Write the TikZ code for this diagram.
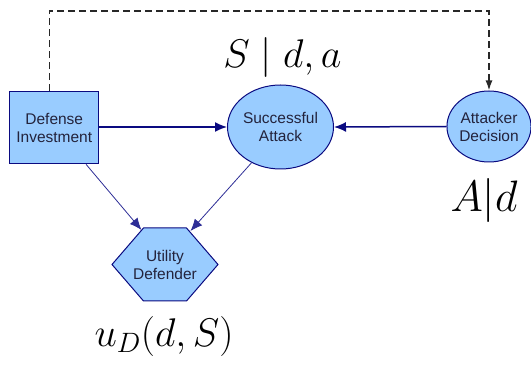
\RequirePackage{fix-cm}
\documentclass[tikz,border=0pt]{standalone}
\usepackage{fontspec}
\newfontfamily\nodefont{Liberation Sans}
\usetikzlibrary{arrows.meta,shapes.geometric}

\definecolor{nodeblue}{RGB}{153,204,255}
\definecolor{edgenavy}{RGB}{10,10,128}
\definecolor{thinnavy}{RGB}{45,45,150}
\definecolor{nodetext}{RGB}{35,35,60}
\definecolor{dashgray}{RGB}{40,40,40}

\begin{document}
\begin{tikzpicture}[x=1pt,y=-1pt,
  nodebase/.style={draw=edgenavy,line width=1pt,fill=nodeblue,inner sep=0pt,
    align=center,text=nodetext,font=\nodefont\fontsize{15.5}{18}\selectfont},
  decisionbox/.style={nodebase,rectangle,minimum width=89pt,minimum height=72pt,line width=1.2pt},
  chancenode/.style={nodebase,ellipse},
  utilfill/.style={draw=edgenavy,line width=1pt,fill=nodeblue},
  utiltext/.style={align=center,text=nodetext,inner sep=0pt,
    font=\nodefont\fontsize{15.5}{18}\selectfont},
  mainarrow/.style={draw=edgenavy,line width=1.5pt,-{Latex[length=12pt,width=10pt]}},
  sidearrow/.style={draw=thinnavy,line width=0.8pt,-{Latex[length=12pt,width=10pt]}},
  infoarrow/.style={draw=dashgray,line width=1.5pt,dash pattern=on 7pt off 4pt,
    -{Latex[length=10pt,width=7pt]}},
  mathlabel/.style={anchor=base,inner sep=0pt}]

\useasboundingbox (0,0) rectangle (531,366);

% decision and chance nodes
\node[decisionbox] (def) at (54.25,127.75) {Defense\\Investment};
\node[chancenode,minimum width=100pt,minimum height=84pt] (sa) at (280.5,127) {Successful\\Attack};
\node[chancenode,minimum width=84pt,minimum height=71pt] (att) at (489,126.5) {Attacker\\Decision};

% utility node (hexagon)
\coordinate (utl) at (143.5,228);
\coordinate (utr) at (186.5,228);
\coordinate (ur) at (218,264.5);
\coordinate (ubr) at (186.5,301);
\coordinate (ubl) at (143.5,301);
\coordinate (ul) at (112,264.5);
\draw[utilfill] (utl) -- (utr) -- (ur) -- (ubr) -- (ubl) -- (ul) -- cycle;
\node[utiltext] (util) at (165,264.5) {Utility\\Defender};

% arcs
\draw[mainarrow] (def.east |- sa.west) -- (sa.west);
\draw[mainarrow] (att.west) -- (sa.east);
\draw[sidearrow] (def.-49) -- ([shift={(-2,2)}]utl);
\draw[sidearrow] (sa.231) -- ([shift={(4,3)}]utr);
\draw[infoarrow] ([xshift=-5pt]def.north) -- ++(0,-80) -| (att.north);

% conditional labels
\node[mathlabel,font=\fontsize{40}{48}\selectfont] (lsa) at (282.5,68) {$S \mid d, a$};
\node[mathlabel,font=\fontsize{44}{52}\selectfont] (latt) at (484,211.5) {$A|d$};
\node[mathlabel,font=\fontsize{40}{48}\selectfont] (lutil) at (164,346.5) {$u_D(d, S)$};

\end{tikzpicture}
\end{document}
